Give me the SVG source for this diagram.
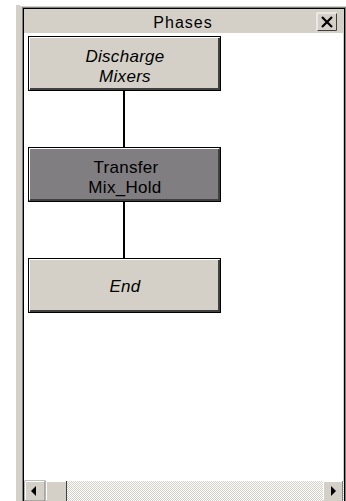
<svg xmlns="http://www.w3.org/2000/svg" width="346" height="501" viewBox="0 0 346 501">
<defs>
<pattern id="dither" width="2" height="2" patternUnits="userSpaceOnUse">
<rect width="2" height="2" fill="#ffffff"/>
<rect width="1" height="1" fill="#d4d0c8"/>
<rect x="1" y="1" width="1" height="1" fill="#d4d0c8"/>
</pattern>
</defs>
<style>
.lbl{font-family:"Liberation Sans",Arial,sans-serif;font-size:17px;text-anchor:middle;fill:#000;letter-spacing:0.3px}
.it{font-style:italic}
.box{stroke:#000;stroke-width:1}
.hl{fill:none;stroke:#ffffff;stroke-width:1}
.sh{fill:none;stroke:#404040;stroke-width:2}
.conn{stroke:#000;stroke-width:2;fill:none}
</style>
<rect width="346" height="501" fill="#ffffff"/>
<g id="window">
<rect x="16" y="5" width="330" height="496" fill="#d4d0c8"/>
<rect x="20" y="5" width="326" height="1" fill="#ffffff"/>
<rect x="22" y="7" width="324" height="494" fill="#808080"/>
<rect x="23" y="8" width="322" height="493" fill="#000000"/>
<rect x="24" y="9" width="320" height="24" fill="#d4d0c8"/>
<text x="183" y="28" font-family="'Liberation Sans',Arial,sans-serif" font-size="16" letter-spacing="1" text-anchor="middle" fill="#000">Phases</text>
<g id="close">
<rect x="317" y="13" width="20" height="18" fill="#d4d0c8"/>
<path d="M317 31V13H337" fill="none" stroke="#ffffff"/>
<path d="M317.5 30.5H336.5V13.5" fill="none" stroke="#404040"/>
<path d="M322 17L332 27M332 17L322 27" stroke="#000" stroke-width="2.2"/>
</g>
<rect x="24" y="33" width="320" height="448" fill="#ffffff"/>
<rect x="343" y="33" width="1" height="448" fill="#d4d0c8"/>
<g id="scrollbar">
<rect x="24" y="481" width="320" height="20" fill="url(#dither)"/>
<rect x="25" y="481" width="20" height="20" fill="#d4d0c8" stroke="#808080" stroke-width="1"/>
<path d="M25.5 500V481.5H44.5" fill="none" stroke="#ffffff"/>
<polygon points="31,491 36,486 36,496" fill="#000"/>
<rect x="46" y="481" width="21" height="20" fill="#d4d0c8"/>
<path d="M46.5 500V481.5H66.5" fill="none" stroke="#ffffff"/>
<path d="M66.5 481V501" stroke="#404040"/>
<rect x="323" y="481" width="20" height="20" fill="#d4d0c8"/>
<path d="M323.5 500V481.5H342.5" fill="none" stroke="#ffffff"/>
<path d="M342.5 481V501" stroke="#808080"/>
<polygon points="336,491 331,486 331,496" fill="#000"/>
</g>
</g>
<g id="connectors">
<line class="conn" x1="124" y1="91" x2="124" y2="148"/>
<line class="conn" x1="124" y1="202" x2="124" y2="259"/>
</g>
<g id="node-discharge">
<rect class="box" x="28.5" y="36.5" width="192" height="54" fill="#d4d0c8"/>
<path class="hl" d="M29.5 89V37.5H219"/>
<path class="sh" d="M30 89H219V38"/>
<text class="lbl it" x="125" y="62">Discharge</text>
<text class="lbl it" x="125" y="81.5">Mixers</text>
</g>
<g id="node-transfer">
<rect class="box" x="28.5" y="147.5" width="192" height="54" fill="#807e80"/>
<path class="hl" d="M29.5 200V148.5H219"/>
<path class="sh" d="M30 200H219V149"/>
<text class="lbl" x="126" y="173" letter-spacing="0.7">Transfer</text>
<text class="lbl" x="125" y="192.5" letter-spacing="0.7">Mix_Hold</text>
</g>
<g id="node-end">
<rect class="box" x="28.5" y="258.5" width="192" height="54" fill="#d4d0c8"/>
<path class="hl" d="M29.5 311V259.5H219"/>
<path class="sh" d="M30 311H219V260"/>
<text class="lbl it" x="125" y="292">End</text>
</g>
</svg>
